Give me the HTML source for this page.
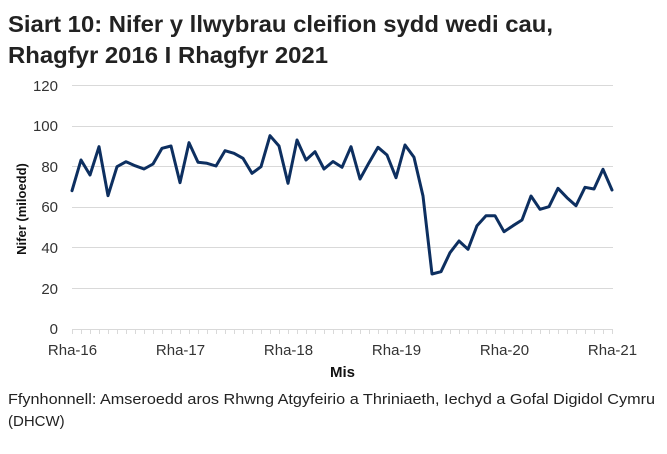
<!DOCTYPE html>
<html>
<head>
<meta charset="utf-8">
<style>
html,body{margin:0;padding:0;background:#fff;}
svg{display:block;}
text{font-family:"Liberation Sans",Arial,sans-serif;}
</style>
</head>
<body>
<svg width="667" height="454" viewBox="0 0 667 454" xmlns="http://www.w3.org/2000/svg">
<rect width="667" height="454" fill="#fff"/>
<!-- Title -->
<text x="8" y="32" font-size="23" font-weight="bold" fill="#222" textLength="545" lengthAdjust="spacingAndGlyphs">Siart 10: Nifer y llwybrau cleifion sydd wedi cau,</text>
<text x="8" y="63" font-size="23" font-weight="bold" fill="#222" textLength="320" lengthAdjust="spacingAndGlyphs">Rhagfyr 2016 I Rhagfyr 2021</text>

<!-- gridlines -->
<g stroke="#d9d9d9" stroke-width="1">
<line x1="72" y1="85.5" x2="613" y2="85.5"/>
<line x1="72" y1="126.5" x2="613" y2="126.5"/>
<line x1="72" y1="166.5" x2="613" y2="166.5"/>
<line x1="72" y1="207.5" x2="613" y2="207.5"/>
<line x1="72" y1="247.5" x2="613" y2="247.5"/>
<line x1="72" y1="288.5" x2="613" y2="288.5"/>
<line x1="72" y1="329.5" x2="613" y2="329.5"/>
</g>
<!-- tick marks -->
<g stroke="#d9d9d9" stroke-width="1">
<path d="M72.5 330v4M81.5 330v4M90.5 330v4M99.5 330v4M108.5 330v4M117.5 330v4M126.5 330v4M135.5 330v4M144.5 330v4M153.5 330v4M162.5 330v4M171.5 330v4M180.5 330v4M189.5 330v4M198.5 330v4M207.5 330v4M216.5 330v4M225.5 330v4M234.5 330v4M243.5 330v4M252.5 330v4M261.5 330v4M270.5 330v4M279.5 330v4M288.5 330v4M297.5 330v4M306.5 330v4M315.5 330v4M324.5 330v4M333.5 330v4M342.5 330v4M351.5 330v4M360.5 330v4M369.5 330v4M378.5 330v4M387.5 330v4M396.5 330v4M405.5 330v4M414.5 330v4M423.5 330v4M432.5 330v4M441.5 330v4M450.5 330v4M459.5 330v4M468.5 330v4M477.5 330v4M486.5 330v4M495.5 330v4M504.5 330v4M513.5 330v4M522.5 330v4M531.5 330v4M540.5 330v4M549.5 330v4M558.5 330v4M567.5 330v4M576.5 330v4M585.5 330v4M594.5 330v4M603.5 330v4M612.5 330v4"/>
</g>

<!-- y labels -->
<g font-size="15" fill="#333" text-anchor="end">
<text x="58" y="91">120</text>
<text x="58" y="131">100</text>
<text x="58" y="172">80</text>
<text x="58" y="212">60</text>
<text x="58" y="253">40</text>
<text x="58" y="294">20</text>
<text x="58" y="334">0</text>
</g>

<!-- x labels -->
<g font-size="15" fill="#333" text-anchor="middle">
<text x="72.5" y="355">Rha-16</text>
<text x="180.5" y="355">Rha-17</text>
<text x="288.5" y="355">Rha-18</text>
<text x="396.5" y="355">Rha-19</text>
<text x="504.5" y="355">Rha-20</text>
<text x="612.5" y="355">Rha-21</text>
</g>

<!-- axis titles -->
<text x="342.5" y="377" font-size="15" font-weight="bold" fill="#111" text-anchor="middle">Mis</text>
<text transform="translate(26,209) rotate(-90)" font-size="13" font-weight="bold" fill="#111" text-anchor="middle">Nifer (miloedd)</text>

<!-- data line -->
<polyline fill="none" stroke="#0d2f60" stroke-width="3" stroke-linejoin="round" stroke-linecap="round"
points="72,190.7 81,160 90,175 99,146.7 108,195.7 117,166.7 126,161.7 135,165.7 144,169 153,164 162,148.3 171,146 180,182.7 189,142.7 198,162.3 207,163.3 216,166 225,150.7 234,153.3 243,158.3 252,173.3 261,166.7 270,135.7 279,146 288,183.3 297,140 306,160 315,151.7 324,169 333,161.5 342,167.3 351,146.7 360,179 369,162.7 378,147.3 387,155 396,177.7 405,145 414,157.3 423,196 432,274 441,271.7 450,252.7 459,241 468,249.3 477,225.7 486,215.7 495,215.7 504,231.7 513,225.7 522,220 531,196 540,209.3 549,206.7 558,188.3 567,197.7 576,205.7 585,187.3 594,189 603,169.3 612,190"/>

<!-- footnote -->
<text x="8" y="404" font-size="15" fill="#222" textLength="647" lengthAdjust="spacingAndGlyphs">Ffynhonnell: Amseroedd aros Rhwng Atgyfeirio a Thriniaeth, Iechyd a Gofal Digidol Cymru</text>
<text x="8" y="426" font-size="15" fill="#222">(DHCW)</text>
</svg>
</body>
</html>
